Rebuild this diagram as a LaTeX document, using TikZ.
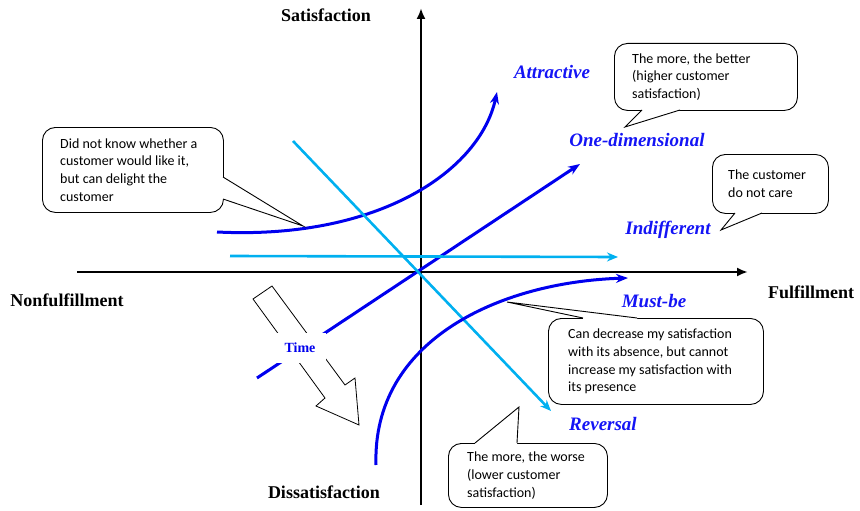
\documentclass[tikz,border=0pt]{standalone}
\usepackage{fontspec}
\setmainfont{Liberation Serif}
\newfontfamily\calloutfont{Carlito}
\usetikzlibrary{arrows.meta}
\definecolor{kblue}{RGB}{0,0,238}
\definecolor{klight}{RGB}{0,176,240}
\definecolor{klabel}{RGB}{20,20,245}
\begin{document}
\begin{tikzpicture}[x=1pt,y=-1pt,
  axislabel/.style={font=\fontsize{18}{20}\selectfont\bfseries, inner sep=0},
  curvelabel/.style={font=\fontsize{19}{21}\selectfont\bfseries\itshape, text=klabel, inner sep=0},
  axisline/.style={line width=2.4pt, -{Latex[length=11pt,width=9pt]}},
  bluecurve/.style={draw=kblue, line width=3pt, -{Stealth[length=12pt,width=9pt]}},
  lightline/.style={draw=klight, line width=2.6pt, -{Stealth[length=11pt,width=9pt]}},
  cbox/.style={draw, line width=0.9pt, fill=white, rounded corners=13pt, inner sep=0pt, anchor=north west},
  ctext/.style={align=left, inner sep=0pt, anchor=west,
    font=\calloutfont\fontsize{14}{17.8}\selectfont},
  cfill/.style={fill=white},
  cptr/.style={draw, line width=0.9pt, line join=miter},
  blockarrow/.style={draw, fill=white, line width=0.8pt, line join=miter}
]
\useasboundingbox (0,0) rectangle (860,511);

% axes
\coordinate (xl) at (77,272);
\coordinate (xr) at (748,272);
\coordinate (yb) at (421,505);
\coordinate (yt) at (421,8);
\draw[axisline] (xl) -- (xr);
\draw[axisline] (yb) -- (yt);

% axis labels
\node[axislabel] (sat) at (326,15) {Satisfaction};
\node[axislabel] (dis) at (324,492) {Dissatisfaction};
\node[axislabel] (nonf) at (67,300) {Nonfulfillment};
\node[axislabel] (ful) at (811,292) {Fulfillment};

% curves
\coordinate (a0) at (217,232);
\coordinate (a1) at (497,92);
\draw[bluecurve] (a0) .. controls (380,240) and (480,170) .. (a1);

\coordinate (o0) at (257,378);
\coordinate (o1) at (580,164);
\draw[bluecurve] (o0) -- (o1);

\coordinate (i0) at (230,256);
\coordinate (i1) at (618,257);
\draw[lightline] (i0) -- (i1);

\coordinate (r0) at (293,141);
\coordinate (r1) at (551,411);
\draw[lightline] (r0) -- (r1);

\coordinate (m0) at (376,465);
\coordinate (m1) at (628,278);
\draw[bluecurve] (m0) .. controls (372,340) and (500,282) .. (m1);

% curve labels
\node[curvelabel] (attr) at (552,72) {Attractive};
\node[curvelabel] (oned) at (637,140) {One-dimensional};
\node[curvelabel] (indiff) at (668,230) {Indifferent};
\node[curvelabel] (must) at (654,301) {Must-be};
\node[curvelabel] (rev) at (603,424) {Reversal};

% time block arrow
\draw[blockarrow] (253,299) -- (272,286) -- (345,385) -- (355,378) -- (359,425)
  -- (316,406) -- (325,398) -- cycle;
\node[fill=white, minimum width=52pt, minimum height=30pt, inner sep=0,
  font=\fontsize{14}{16}\selectfont\bfseries, text=kblue] (time) at (300,348) {Time};

% callout 1
\node[cbox, minimum width=181pt, minimum height=85pt] (c1box) at (42,127) {};
\node[ctext] (c1) at ([xshift=18pt]c1box.west)
  {Did not know whether a\\customer would like it,\\but can delight the\\customer};
\coordinate (t1) at (303,226);
\fill[cfill] (219,177) -- (223,177) -- (t1) -- (223,199) -- (219,199) -- cycle;
\draw[cptr] (223,177) -- (t1) -- (223,199);

% callout 2
\node[cbox, minimum width=183pt, minimum height=67pt] (c2box) at (614,43) {};
\node[ctext] (c2) at ([xshift=18pt]c2box.west)
  {The more, the better\\(higher customer\\satisfaction)};
\coordinate (t2) at (625,127);
\fill[cfill] (642,106) -- (642,110) -- (t2) -- (680,110) -- (680,106) -- cycle;
\draw[cptr] (642,110) -- (t2) -- (680,110);

% callout 3
\node[cbox, minimum width=116pt, minimum height=59pt] (c3box) at (712,154) {};
\node[ctext] (c3) at ([xshift=16pt]c3box.west)
  {The customer\\do not care};
\coordinate (t3) at (721,230);
\fill[cfill] (735,209) -- (735,213) -- (t3) -- (762,213) -- (762,209) -- cycle;
\draw[cptr] (735,213) -- (t3) -- (762,213);

% callout 4
\node[cbox, minimum width=215pt, minimum height=86pt] (c4box) at (548,318) {};
\node[ctext] (c4) at ([xshift=20pt]c4box.west)
  {Can decrease my satisfaction\\with its absence, but cannot\\increase my satisfaction with\\its presence};
\coordinate (t4) at (507,302);
\fill[cfill] (583,322) -- (583,318) -- (t4) -- (637,318) -- (637,322) -- cycle;
\draw[cptr] (583,318) -- (t4) -- (637,318);

% callout 5
\node[cbox, minimum width=159pt, minimum height=64pt] (c5box) at (448,443) {};
\node[ctext] (c5) at ([xshift=19pt]c5box.west)
  {The more, the worse\\(lower customer\\satisfaction)};
\coordinate (t5) at (519,407);
\fill[cfill] (475,447) -- (475,443) -- (t5) -- (517,443) -- (517,447) -- cycle;
\draw[cptr] (475,443) -- (t5) -- (517,443);
\end{tikzpicture}
\end{document}
